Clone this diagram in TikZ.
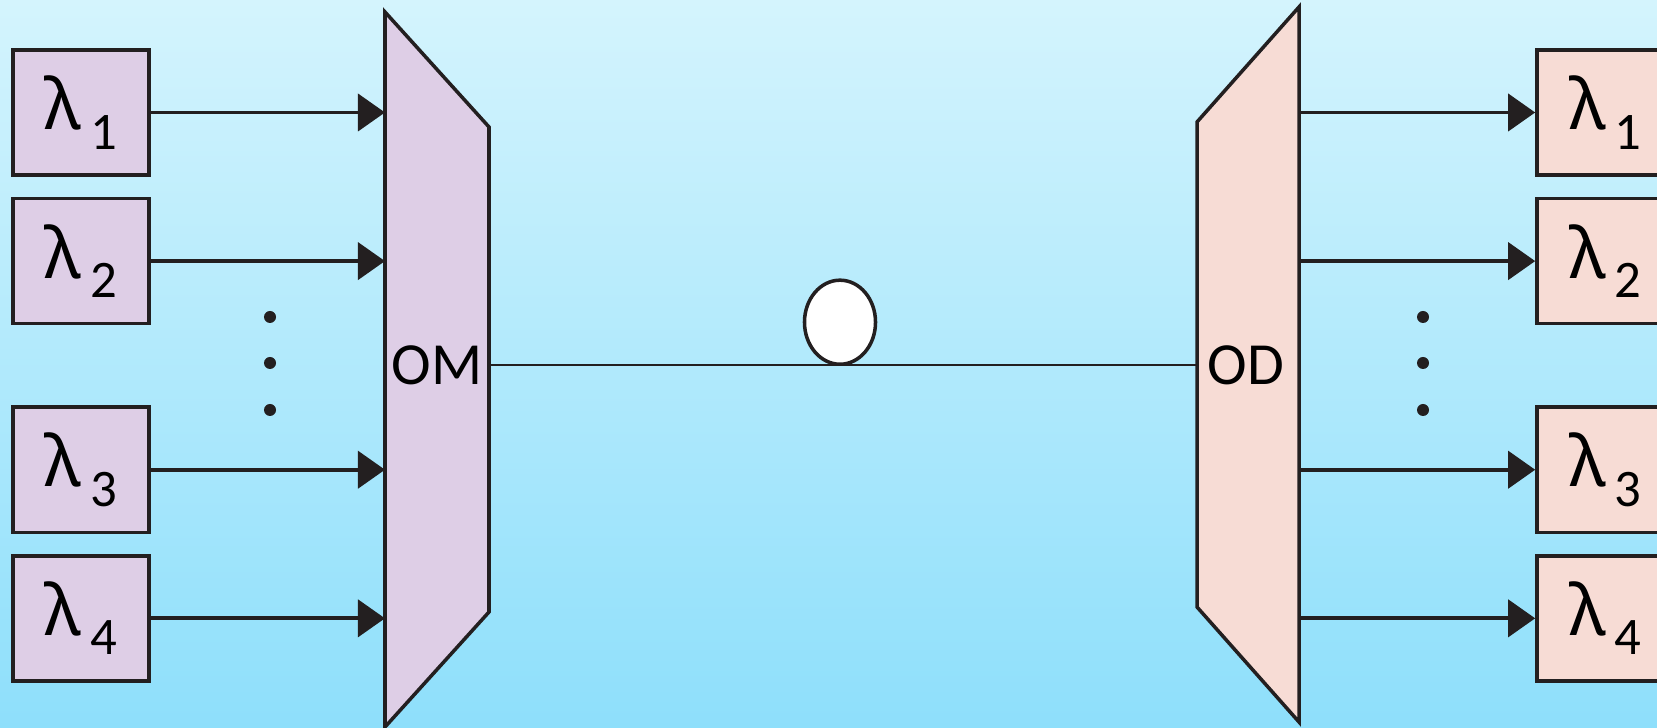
\documentclass[tikz,border=0pt]{standalone}
\usepackage{fontspec}
\setmainfont{Carlito}
\newfontfamily\greekfont{Noto Sans}
\usetikzlibrary{positioning, arrows.meta, shapes}

\definecolor{skytop}{HTML}{D4F4FD}
\definecolor{skybot}{HTML}{8EDFFB}
\definecolor{muxlilac}{HTML}{DECEE6}
\definecolor{demuxpeach}{HTML}{F7DCD5}
\definecolor{ink}{HTML}{231F20}

% wavelength label: lambda with a lowered index
\newcommand{\wl}[1]{{\greekfont\fontsize{20}{20}\selectfont λ}\kern2.5pt\raisebox{-5.5pt}{\fontsize{15}{15}\selectfont #1}}

\begin{document}
\begin{tikzpicture}[
    x=0.01cm, y=-0.01cm,
    >=LaTeX,
    source/.style={rectangle, draw=ink, line width=1pt, fill=muxlilac, minimum width=1.36cm, minimum height=1.25cm, inner sep=0pt},
    receiver/.style={source, fill=demuxpeach},
    mux/.style={draw=ink, line width=1pt, fill=muxlilac},
    demux/.style={mux, fill=demuxpeach},
    tag/.style={font=\fontsize{17}{17}\selectfont, inner sep=0pt},
    arrow/.style={-{Triangle[length=2.7mm, width=3.7mm]}, line width=1.1pt, draw=ink},
    fiber/.style={draw=ink, line width=0.8pt},
    coil/.style={ellipse, draw=ink, line width=1pt, fill=white, minimum width=0.71cm, minimum height=0.84cm, inner sep=0pt},
    dot/.style={circle, fill=ink, inner sep=0pt, minimum size=1.2mm}
]

\useasboundingbox (0,0) rectangle (1657,728);
\clip (0,0) rectangle (1657,728);
\fill[top color=skytop, bottom color=skybot] (0,0) rectangle (1657,728);

% Sources
\node[source] (lam1) at (81,112.5) {\wl{1}};
\node[source, below=0.2cm of lam1] (lam2) {\wl{2}};
\node[source, below=0.8cm of lam2] (lam3) {\wl{3}};
\node[source, below=0.2cm of lam3] (lam4) {\wl{4}};

\node[dot] (ldot1) at (270,317) {};
\node[dot] (ldot2) at (270,363) {};
\node[dot] (ldot3) at (270,410) {};

% Multiplexer
\draw[mux] (385,12) -- (489,127) -- (489,612) -- (385,727) -- cycle;
\coordinate (omIn) at (385,0);
\coordinate (omOut) at (489,365);
\node[tag] (om) at (437,365) {OM};

% Demultiplexer
\draw[demux] (1299,7) -- (1299,722) -- (1197,607) -- (1197,122) -- cycle;
\coordinate (odIn) at (1197,365);
\coordinate (odOut) at (1299,0);
\node[tag] (od) at (1246,365) {OD};

% Receivers
\node[receiver] (out1) at (1605,112.5) {\wl{1}};
\node[receiver, below=0.2cm of out1] (out2) {\wl{2}};
\node[receiver, below=0.8cm of out2] (out3) {\wl{3}};
\node[receiver, below=0.2cm of out3] (out4) {\wl{4}};

\node[dot] (rdot1) at (1423,317) {};
\node[dot] (rdot2) at (1423,363) {};
\node[dot] (rdot3) at (1423,410) {};

% Connections
\foreach \i in {1,...,4}
    \draw[arrow] (lam\i) -- (lam\i -| omIn);
\foreach \i in {1,...,4}
    \draw[arrow] (out\i -| odOut) -- (out\i);

\draw[fiber] (omOut) -- (odIn);
\node[coil, anchor=south] (spool) at (840,366) {};

\end{tikzpicture}
\end{document}
